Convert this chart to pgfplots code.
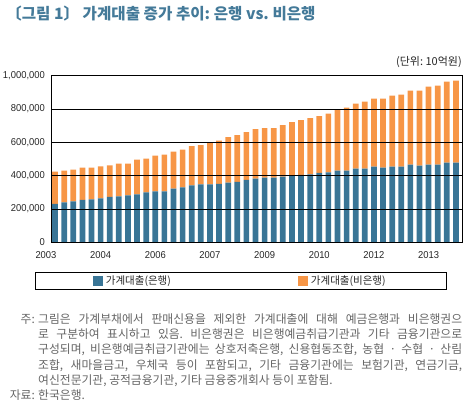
\documentclass[border=0pt]{standalone}
\usepackage{fontspec}
\usepackage{pgfplots}
\usepackage{pgfplotstable}
\pgfplotsset{compat=1.18}
\setmainfont{Noto Sans CJK KR}
\newfontfamily\tickfont[FakeStretch=0.94]{Liberation Sans}
\definecolor{bankblue}{RGB}{57,117,150}
\definecolor{nonbank}{RGB}{247,150,70}
\definecolor{titleblue}{RGB}{68,122,153}
\definecolor{notegray}{RGB}{100,100,100}
\frenchspacing

% unit: 10억원 ; quarterly, 45 quarters
\pgfplotstableread{
q bank nonbank
0 230000 194000
1 240000 190000
2 246000 190000
3 254000 194000
4 258000 190000
5 264000 192000
6 272000 190000
7 276000 196000
8 282000 190000
9 288000 208000
10 300000 202000
11 306000 214000
12 306000 220000
13 322000 222000
14 330000 226000
15 342000 236000
16 348000 236000
17 348000 252000
18 350000 260000
19 358000 274000
20 362000 282000
21 374000 288000
22 382000 298000
23 388000 298000
24 388000 298000
25 394000 310000
26 398000 324000
27 404000 330000
28 408000 338000
29 416000 342000
30 420000 352000
31 430000 370000
32 430000 378000
33 442000 390000
34 442000 402000
35 454000 408000
36 448000 414000
37 454000 426000
38 454000 432000
39 466000 444000
40 460000 450000
41 466000 468000
42 466000 474000
43 478000 486000
44 478000 492000
}\loandata

\begin{document}
\begin{tikzpicture}
\path[use as bounding box] (0bp,0bp) rectangle (476bp,-410bp);
\node[anchor=west, inner sep=0pt, text=titleblue, font=\bfseries\fontsize{15.6bp}{18bp}\selectfont] at (6bp,-14bp) {〔그림 1〕 가계대출 증가 추이: 은행 vs. 비은행};
\node[anchor=east, inner sep=0pt, text=black!85, font=\fontsize{11bp}{13bp}\selectfont] at (462bp,-62bp) {(단위: 10억원)};
\begin{axis}[
  at={(51.7bp,-242.3bp)}, anchor=south west,
  width=410.6bp, height=166.6bp, scale only axis,
  ybar stacked, bar width=5.7bp,
  xmin=-0.37, xmax=44.7, ymin=0, ymax=1000000,
  xtick={0,6,12,18,24,30,36,42},
  xticklabels={2003,2004,2006,2007,2009,2010,2012,2013},
  ytick={0,200000,400000,600000,800000,1000000},
  scaled y ticks=false,
  tick label style={font=\tickfont\fontsize{10bp}{12bp}\selectfont, text=black!85},
  yticklabel style={anchor=east, inner sep=0pt, xshift=-6.7bp,
    /pgf/number format/fixed, /pgf/number format/1000 sep={,},
    /pgf/number format/assume math mode=true},
  xticklabel style={anchor=north, inner sep=0pt, yshift=-9.5bp, xshift=-9.11bp},
  major tick length=0pt,
  ymajorgrids, major grid style={black, line width=0.8bp},
  axis line style={black, line width=0.8bp},
  axis on top,
  legend columns=2,
  legend style={at={(-0.0407,-0.1783)}, anchor=north west, draw=black, line width=0.8bp,
    inner xsep=57.5bp, inner ysep=3.5bp,
    font=\fontsize{10.5bp}{12bp}\selectfont, text=black!85,
    nodes={inner xsep=3bp, inner ysep=0pt},
    /tikz/every even column/.append style={column sep=124bp}},
]
\addplot[fill=bankblue, draw=none, legend image code/.code={\fill[bankblue] (0bp,-4.75bp) rectangle (10bp,4.75bp);}] table[x=q, y=bank] {\loandata};
\addlegendentry{가계대출(은행)}
\addplot[fill=nonbank, draw=none, legend image code/.code={\fill[nonbank] (0bp,-4.75bp) rectangle (10bp,4.75bp);}] table[x=q, y=nonbank] {\loandata};
\addlegendentry{가계대출(비은행)}
\end{axis}
\begin{scope}[font=\fontsize{11.8bp}{15bp}\selectfont, text=notegray]
\node[anchor=base east, inner sep=0pt] at (35bp,-323.2bp) {주:};
\node[anchor=base west, inner sep=0pt] at (38bp,-323.2bp) {\makebox[424bp][s]{그림은 가계부채에서 판매신용을 제외한 가계대출에 대해 예금은행과 비은행권으}};
\node[anchor=base west, inner sep=0pt] at (38bp,-338.5bp) {\makebox[424bp][s]{로 구분하여 표시하고 있음. 비은행권은 비은행예금취급기관과 기타 금융기관으로}};
\node[anchor=base west, inner sep=0pt] at (38bp,-353.8bp) {\makebox[424bp][s]{구성되며, 비은행예금취급기관에는 상호저축은행, 신용협동조합, 농협 · 수협 · 산림}};
\node[anchor=base west, inner sep=0pt] at (38bp,-369.1bp) {\makebox[424bp][s]{조합, 새마을금고, 우체국 등이 포함되고, 기타 금융기관에는 보험기관, 연금기금,}};
\node[anchor=base west, inner sep=0pt] at (38bp,-384.4bp) {여신전문기관, 공적금융기관, 기타 금융중개회사 등이 포함됨.};
\node[anchor=base east, inner sep=0pt] at (35bp,-399.7bp) {자료:};
\node[anchor=base west, inner sep=0pt] at (38bp,-399.7bp) {한국은행.};
\end{scope}
\end{tikzpicture}
\end{document}
